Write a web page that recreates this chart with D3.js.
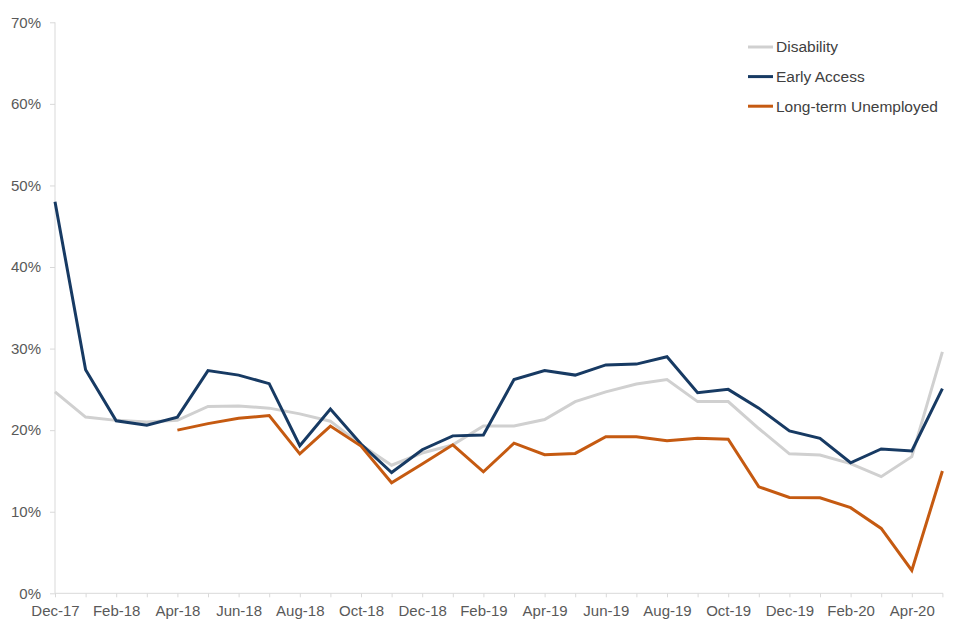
<!DOCTYPE html>
<html lang="en">
  <head>
    <meta charset="UTF-8">
    <title>Rates by group</title>
    <style>
      body { margin:0; background:#fff; }
      svg { display:block; font-family:"Liberation Sans", Arial, sans-serif; }
      .axis path, .axis line { stroke:#d9d9d9; }
      .axis text { fill:#595959; font-size:15px; }
      .legend text { fill:#404040; font-size:15.5px; }
    </style>
  </head>
  <body>
    <svg id="chart" width="960" height="640"></svg>
    <script src="https://d3js.org/d3.v7.min.js"></script>
    <script>
    var months = ['Dec-17','Jan-18','Feb-18','Mar-18','Apr-18','May-18','Jun-18','Jul-18','Aug-18','Sep-18',
                  'Oct-18','Nov-18','Dec-18','Jan-19','Feb-19','Mar-19','Apr-19','May-19','Jun-19','Jul-19',
                  'Aug-19','Sep-19','Oct-19','Nov-19','Dec-19','Jan-20','Feb-20','Mar-20','Apr-20','May-20'];

    var disability = [24.7,21.6,21.2,21.0,21.2,22.9,22.95,22.7,22.0,21.1,
                      18.2,15.7,17.2,18.2,20.5,20.5,21.3,23.5,24.7,25.65,
                      26.2,23.5,23.5,20.2,17.1,16.95,15.9,14.3,16.75,29.6];
    var earlyAccess = [48.0,27.4,21.15,20.6,21.6,27.3,26.75,25.7,18.1,22.6,
                       18.3,14.8,17.6,19.3,19.4,26.2,27.3,26.75,28.0,28.1,
                       29.0,24.6,25.0,22.7,19.9,19.0,16.0,17.7,17.45,25.1];
    var longTerm = [null,null,null,null,20.0,20.8,21.45,21.8,17.1,20.5,
                    18.05,13.55,15.85,18.2,14.9,18.4,17.0,17.15,19.2,19.2,
                    18.7,19.0,18.9,13.05,11.75,11.7,10.5,7.95,2.8,15.0];

    var yTicks = [0,10,20,30,40,50,60,70];

    var series = [
      {name:'Disability', values:disability, color:'#d0d0d0'},
      {name:'Early Access', values:earlyAccess, color:'#173a63'},
      {name:'Long-term Unemployed', values:longTerm, color:'#c55a11'}
    ];

    var svg = d3.select('#chart');

    var x = d3.scaleLinear().domain([0, months.length-1]).range([55, 942.4]);
    var y = d3.scaleLinear().domain([0, 70]).range([593.3, 22.3]);

    // y axis
    svg.append('g')
      .attr('class','axis')
      .attr('transform','translate(55,0)')
      .call(d3.axisLeft(y).tickValues(yTicks).tickSize(5).tickPadding(9).tickFormat(d => d + '%'))
      .call(g => g.select('.domain').attr('d', 'M0,' + y(0) + 'V' + y(70)));

    // x axis, tick every month, label every other
    svg.append('g')
      .attr('class','axis')
      .attr('transform','translate(0,' + y(0) + ')')
      .call(d3.axisBottom(x).tickValues(d3.range(months.length)).tickSize(4).tickPadding(8)
        .tickFormat(i => i % 2 === 0 ? months[i] : ''))
      .call(g => g.select('.domain').attr('d', 'M' + x(0) + ',0H943'));

    var line = d3.line()
      .defined(d => d != null)
      .x((d,i) => x(i))
      .y(d => y(d));

    svg.selectAll('.series')
      .data(series)
      .enter().append('path')
      .attr('class','series')
      .attr('fill','none')
      .attr('stroke', d => d.color)
      .attr('stroke-width', 3)
      .attr('stroke-linejoin','miter')
      .attr('d', d => line(d.values));

    // legend
    var legend = svg.append('g').attr('class','legend');
    var rows = legend.selectAll('g')
      .data(series)
      .enter().append('g')
      .attr('transform', (d,i) => 'translate(748,' + (47 + i*29.6) + ')');
    rows.append('line')
      .attr('x1',0).attr('x2',25)
      .attr('stroke', d => d.color)
      .attr('stroke-width',3);
    rows.append('text')
      .attr('x',28).attr('dy','0.35em')
      .text(d => d.name);
    </script>
  </body>
</html>
